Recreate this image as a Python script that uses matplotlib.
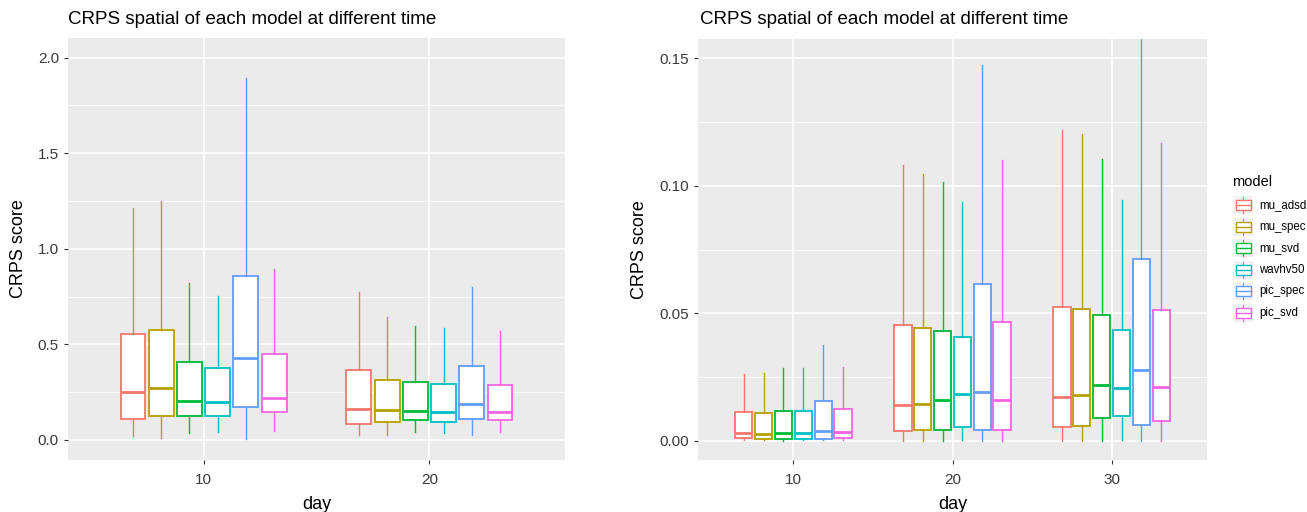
import matplotlib
matplotlib.use('Agg')
import matplotlib.pyplot as plt
from matplotlib.patches import Rectangle

plt.rcParams['font.family'] = ['Liberation Sans', 'DejaVu Sans']

models = ['mu_adsd', 'mu_spec', 'mu_svd', 'wavhv50', 'pic_spec', 'pic_svd']
colors = ['#F8766D', '#B79F00', '#00BA38', '#00BFC4', '#619CFF', '#F564E3']

# left panel: days 10, 20 ; each list is one model per day
left_days = ['10', '20']
left_low = [[0.019, 0.010, 0.037, 0.040, 0.005, 0.045],
            [0.026, 0.024, 0.040, 0.037, 0.026, 0.040]]
left_q1 = [[0.111, 0.124, 0.124, 0.124, 0.171, 0.146],
           [0.085, 0.096, 0.103, 0.096, 0.110, 0.103]]
left_med = [[0.249, 0.270, 0.206, 0.197, 0.427, 0.221],
            [0.162, 0.155, 0.150, 0.145, 0.188, 0.148]]
left_q3 = [[0.552, 0.577, 0.406, 0.376, 0.859, 0.449],
           [0.364, 0.315, 0.301, 0.293, 0.385, 0.287]]
left_high = [[1.213, 1.249, 0.821, 0.751, 1.892, 0.894],
             [0.772, 0.643, 0.598, 0.585, 0.800, 0.568]]

# right panel: days 10, 20, 30
right_days = ['10', '20', '30']
right_low = [[0.0003, 0.0003, 0.0001, 0.0002, 0.0002, 0.0002],
             [0.0000, 0.0000, 0.0000, 0.0005, 0.0000, 0.0000],
             [0.0000, 0.0000, 0.0000, 0.0005, 0.0000, 0.0000]]
right_q1 = [[0.0013, 0.0009, 0.0009, 0.0009, 0.0009, 0.0013],
            [0.0038, 0.0041, 0.0041, 0.0054, 0.0042, 0.0042],
            [0.0056, 0.0058, 0.0088, 0.0096, 0.0064, 0.0077]]
right_med = [[0.0029, 0.0027, 0.0031, 0.0030, 0.0037, 0.0034],
             [0.0141, 0.0145, 0.0161, 0.0182, 0.0190, 0.0161],
             [0.0171, 0.0179, 0.0220, 0.0206, 0.0277, 0.0211]]
right_q3 = [[0.0114, 0.0111, 0.0119, 0.0119, 0.0157, 0.0123],
            [0.0455, 0.0441, 0.0431, 0.0407, 0.0614, 0.0467],
            [0.0524, 0.0518, 0.0493, 0.0436, 0.0713, 0.0514]]
right_high = [[0.0264, 0.0267, 0.0284, 0.0284, 0.0377, 0.0289],
              [0.1081, 0.1047, 0.1016, 0.0936, 0.1473, 0.1102],
              [0.1220, 0.1204, 0.1103, 0.0945, 0.1750, 0.1168]]


def draw_panel(ax, days, low, q1, med, q3, high, ylim, major, minor, ticklabels):
    ax.set_facecolor('#EBEBEB')
    for y in minor:
        ax.axhline(y, color='white', lw=0.6, zorder=0)
    for y in major:
        ax.axhline(y, color='white', lw=1.2, zorder=0)
    for i in range(len(days)):
        ax.axvline(i + 1, color='white', lw=1.2, zorder=0)
    for d in range(len(days)):
        for m in range(len(models)):
            pos = d + 1 + (m - 2.5) * 0.125
            st = [{'whislo': low[d][m], 'q1': q1[d][m], 'med': med[d][m],
                   'q3': q3[d][m], 'whishi': high[d][m], 'fliers': []}]
            c = colors[m]
            ax.bxp(st, positions=[pos], widths=0.11, showcaps=False,
                   showfliers=False, patch_artist=True,
                   boxprops=dict(facecolor='white', edgecolor=c, lw=1.3),
                   whiskerprops=dict(color=c, lw=1.0),
                   medianprops=dict(color=c, lw=2.0))
    ax.set_xlim(0.4, len(days) + 0.6)
    ax.set_ylim(*ylim)
    ax.set_xticks(range(1, len(days) + 1))
    ax.set_xticklabels(days)
    ax.set_yticks(major)
    ax.set_yticklabels(ticklabels)
    ax.tick_params(colors='#333333', labelcolor='#3A3A3A', labelsize=11,
                   length=3, width=0.8)
    ax.tick_params(axis='x', pad=6)
    for s in ax.spines.values():
        s.set_visible(False)
    ax.set_xlabel('day', fontsize=13, labelpad=7)
    ax.set_ylabel('CRPS score', fontsize=13, labelpad=8)


fig = plt.figure(figsize=(13.07, 5.12), dpi=100)
W, H = 1307, 512

ax1 = fig.add_axes([68 / W, (H - 460) / H, 497 / W, 422 / H])
draw_panel(ax1, left_days, left_low, left_q1, left_med, left_q3, left_high,
           (-0.105, 2.103), [0, 0.5, 1.0, 1.5, 2.0], [0.25, 0.75, 1.25, 1.75],
           ['0.0', '0.5', '1.0', '1.5', '2.0'])

ax2 = fig.add_axes([698 / W, (H - 460) / H, 509 / W, 421 / H])
draw_panel(ax2, right_days, right_low, right_q1, right_med, right_q3, right_high,
           (-0.0075, 0.1575), [0, 0.05, 0.10, 0.15], [0.025, 0.075, 0.125],
           ['0.00', '0.05', '0.10', '0.15'])

fig.text(68 / W, 1 - 19 / H, 'CRPS spatial of each model at different time',
         fontsize=13.5, va='center', ha='left')
fig.text(700 / W, 1 - 19 / H, 'CRPS spatial of each model at different time',
         fontsize=13.5, va='center', ha='left')

# legend drawn by hand, ggplot style
lax = fig.add_axes([0, 0, 1, 1], facecolor='none')
lax.set_xlim(0, W)
lax.set_ylim(H, 0)
lax.axis('off')
lax.text(1232, 182, 'model', fontsize=10.5, va='center', ha='left')
for i, (name, c) in enumerate(zip(models, colors)):
    yc = 205 + i * 21.6
    lax.add_patch(Rectangle((1233, yc - 9), 20, 18, facecolor='#F2F2F2',
                            edgecolor='none'))
    lax.add_patch(Rectangle((1235.5, yc - 5), 15, 10, facecolor='white',
                            edgecolor=c, lw=1.0))
    lax.plot([1235.5, 1250.5], [yc, yc], color=c, lw=1.0)
    lax.plot([1243, 1243], [yc - 8, yc - 5], color=c, lw=0.8)
    lax.plot([1243, 1243], [yc + 5, yc + 8], color=c, lw=0.8)
    lax.text(1259, yc, name, fontsize=8.3, va='center', ha='left')

fig.savefig('out.png', dpi=100)
